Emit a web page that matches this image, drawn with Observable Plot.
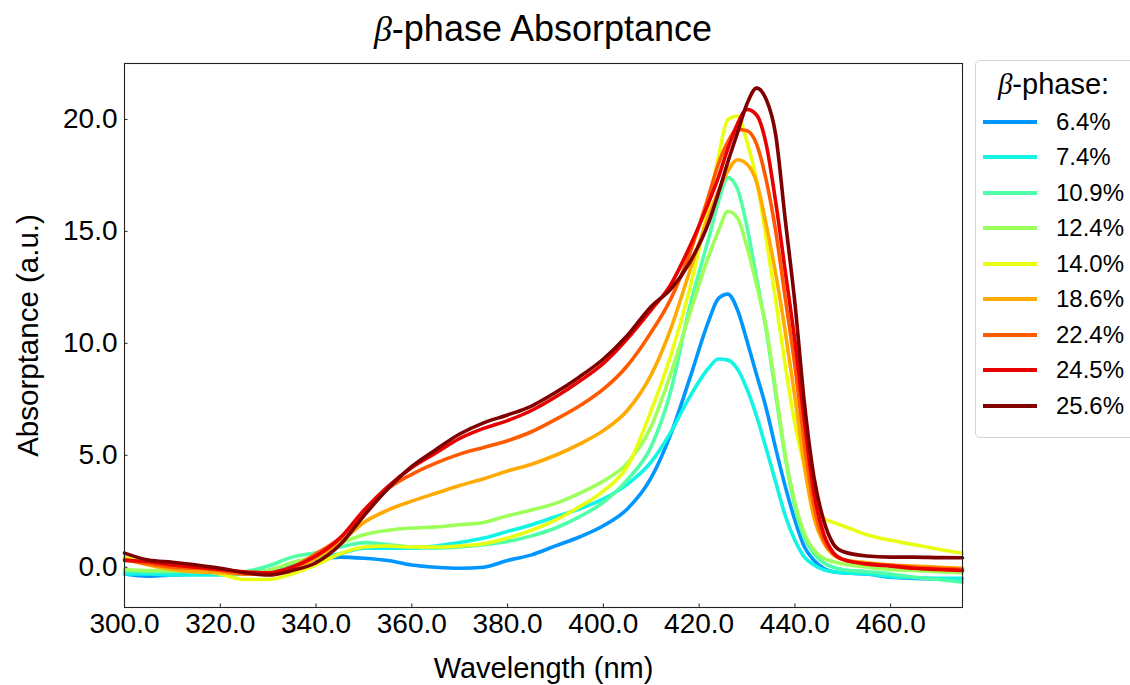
<!DOCTYPE html>
<html>
<head>
<meta charset="utf-8">
<script src="https://cdn.jsdelivr.net/npm/d3@7"></script>
<script src="https://cdn.jsdelivr.net/npm/@observablehq/plot@0.6"></script>
<style>
  body { margin: 0; background: #fff; }
  #wrap { position: relative; width: 1130px; height: 685px; font-family: "Liberation Sans", Arial, sans-serif; color: #000; overflow: hidden; }
  #title { height: 50px; box-sizing: border-box; padding-top: 11px; margin-left: 124px; width: 838px; text-align: center; font-size: 36px; line-height: 36px; white-space: nowrap; }
  .beta { font-family: "Liberation Serif", "DejaVu Serif", serif; font-style: italic; }
  #legend { position: absolute; left: 975px; top: 60px; width: 175px; height: 378px; border: 1px solid #d4d4d4; border-radius: 5px; box-sizing: border-box; background: #fff; }
  #legend .ltitle { position: absolute; left: 0; width: 155px; top: 6px; text-align: center; font-size: 29px; line-height: 34px; white-space: nowrap; }
  #legend .row { position: absolute; left: 0; height: 30px; width: 170px; }
  #legend .sw { position: absolute; left: 7px; top: 13px; width: 54px; height: 4px; }
  #legend .lab { position: absolute; left: 80px; top: 0; font-size: 24px; line-height: 30px; white-space: nowrap; }
</style>
</head>
<body>
<div id="wrap">
  <div id="title"><span class="beta">β</span>-phase Absorptance</div>
  <div id="chart"></div>
  <div id="legend"></div>
</div>
<script>
// Wavelength grid (nm)
const wavelength = [300,305,310,315,320,325,330,335,340,345,350,355,360,365,370,375,380,385,390,395,400,405,410,414,418,422,424,426,428,430,432,434,436,438,440,442,444,446,448,450,455,460,465,470,475];

// Series labels (beta-phase fraction) and colours
const seriesLabels = ["6.4%","7.4%","10.9%","12.4%","14.0%","18.6%","22.4%","24.5%","25.6%"];
const seriesColors = ["#0096ff","#12f5e4","#50ffa8","#9cff5a","#e8ff12","#ffaa00","#ff5a00","#e80000","#800000"];

// Absorptance values (a.u.) per series
const abs_6_4 = [-0.3,-0.4,-0.35,-0.3,-0.3,-0.25,-0.15,0.15,0.35,0.45,0.4,0.3,0.1,0.0,-0.05,0.0,0.3,0.55,0.95,1.35,1.85,2.6,4.0,5.9,8.4,11.0,12.0,12.2,11.5,10.1,8.6,7.1,5.3,3.6,2.1,0.9,0.3,-0.05,-0.2,-0.25,-0.3,-0.45,-0.5,-0.52,-0.52];
const abs_7_4 = [-0.3,-0.3,-0.35,-0.35,-0.35,-0.3,-0.2,0.2,0.4,0.6,0.85,0.85,0.85,0.95,1.1,1.3,1.6,1.9,2.25,2.6,3.05,3.7,4.7,6.0,7.6,8.9,9.3,9.25,8.85,7.95,6.75,5.3,3.8,2.3,1.2,0.45,0.1,-0.12,-0.2,-0.25,-0.3,-0.42,-0.47,-0.5,-0.5];
const abs_10_9 = [-0.15,-0.2,-0.2,-0.2,-0.25,-0.2,0.05,0.45,0.65,0.9,1.1,1.0,0.9,0.85,0.9,1.0,1.15,1.4,1.75,2.25,2.9,3.9,5.4,7.8,11.6,14.7,16.3,17.4,16.9,15.2,12.9,10.6,7.7,4.9,2.7,1.3,0.6,0.2,0.0,-0.1,-0.2,-0.3,-0.45,-0.55,-0.67];
const abs_12_4 = [-0.1,-0.15,-0.15,-0.2,-0.2,-0.3,-0.15,0.2,0.5,1.05,1.45,1.65,1.75,1.8,1.9,2.0,2.3,2.55,2.85,3.3,3.85,4.65,6.3,8.6,11.3,13.9,15.0,15.9,15.6,14.3,12.6,10.7,7.9,5.0,2.9,1.5,0.75,0.4,0.25,0.15,0.0,-0.1,-0.15,-0.2,-0.25];
const abs_14_0 = [0.45,0.2,0.05,-0.1,-0.3,-0.55,-0.55,-0.3,0.1,0.6,0.9,0.95,0.9,0.9,0.95,1.05,1.3,1.65,2.1,2.7,3.4,4.5,7.0,9.4,12.4,16.2,18.3,20.0,20.15,19.0,17.3,14.7,11.9,9.0,6.4,4.5,2.8,2.2,2.0,1.85,1.45,1.2,1.0,0.8,0.62];
const abs_18_6 = [0.35,0.1,-0.1,-0.2,-0.25,-0.3,-0.3,-0.1,0.4,1.1,2.0,2.55,2.95,3.3,3.65,3.95,4.3,4.6,5.0,5.5,6.1,7.0,8.6,10.6,13.2,15.7,16.8,17.7,18.2,18.0,17.2,15.3,13.1,10.5,7.6,4.5,2.2,1.1,0.55,0.35,0.2,0.1,0.05,0.0,-0.05];
const abs_22_4 = [0.35,0.15,0.0,-0.05,-0.15,-0.3,-0.3,0.0,0.6,1.3,2.4,3.5,4.15,4.65,5.05,5.35,5.65,6.05,6.6,7.2,7.95,9.0,10.5,11.95,14.0,16.6,18.0,19.0,19.55,19.5,18.9,17.3,15.0,12.0,9.0,5.5,2.7,1.2,0.6,0.35,0.15,0.1,0.0,-0.05,-0.1];
const abs_24_5 = [0.3,0.25,0.1,0.0,-0.1,-0.2,-0.25,0.0,0.5,1.3,2.55,3.6,4.45,5.1,5.75,6.2,6.55,7.0,7.6,8.3,9.1,10.2,11.5,12.6,14.3,16.3,17.4,18.7,19.8,20.45,20.2,18.9,16.3,13.2,10.1,6.5,3.3,1.5,0.65,0.35,0.15,0.05,-0.05,-0.1,-0.15];
const abs_25_6 = [0.63,0.32,0.22,0.1,-0.05,-0.25,-0.35,-0.15,0.2,1.0,2.3,3.5,4.5,5.25,5.95,6.45,6.8,7.2,7.8,8.5,9.3,10.35,11.65,12.4,13.6,15.4,16.7,18.1,19.4,20.7,21.4,20.9,19.3,15.5,11.8,7.3,4.0,2.1,1.05,0.7,0.5,0.45,0.45,0.43,0.42];

// Axis ticks
const xTicks = [300,320,340,360,380,400,420,440,460];
const yTicks = [0,5,10,15,20];

const seriesValues = [abs_6_4, abs_7_4, abs_10_9, abs_12_4, abs_14_0, abs_18_6, abs_22_4, abs_24_5, abs_25_6];
const rows = [];
seriesLabels.forEach((lab, i) => {
  wavelength.forEach((w, j) => rows.push({series: lab, nm: w, v: seriesValues[i][j]}));
});

const W = 1130, H = 635, mT = 13, mB = 78, mL = 124, mR = 168;
const innerW = W - mL - mR, innerH = H - mT - mB;
const fmt = d3.format(".1f");

const chart = Plot.plot({
  width: W, height: H,
  marginTop: mT, marginBottom: mB, marginLeft: mL, marginRight: mR,
  style: {fontFamily: "'Liberation Sans', Arial, sans-serif", fontSize: "28px", color: "#000", background: "#fff"},
  x: {domain: [300, 475], label: null},
  y: {domain: [-1.8, 22.5], label: null},
  color: {domain: seriesLabels, range: seriesColors},
  marks: [
    Plot.line(rows, {x: "nm", y: "v", z: "series", stroke: "series", strokeWidth: 3.6, curve: "monotone-x"}),
    Plot.frame({stroke: "#222", strokeWidth: 1.1}),
    Plot.tickX(xTicks, {x: d => d, stroke: "#222", insetTop: innerH - 3.5}),
    Plot.tickY(yTicks, {y: d => d, stroke: "#222", insetRight: innerW - 3.5}),
    Plot.axisX(xTicks, {tickSize: 0, tickPadding: 6, tickFormat: fmt, fontSize: 28, label: null}),
    Plot.axisY(yTicks, {tickSize: 0, tickPadding: 7, tickFormat: fmt, fontSize: 28, label: null}),
    Plot.text(["Wavelength (nm)"], {frameAnchor: "bottom", dy: 61, fontSize: 29, lineAnchor: "middle", textAnchor: "middle"}),
    Plot.text(["Absorptance (a.u.)"], {frameAnchor: "left", dx: -96, rotate: -90, fontSize: 29.5, lineAnchor: "middle", textAnchor: "middle"})
  ]
});
document.getElementById("chart").appendChild(chart);

// Legend
const legend = d3.select("#legend");
legend.append("div").attr("class", "ltitle").html('<span class="beta">β</span>-phase:');
seriesLabels.forEach((lab, i) => {
  const r = legend.append("div").attr("class", "row").style("top", (45.7 + 35.5 * i) + "px");
  r.append("div").attr("class", "sw").style("background", seriesColors[i]);
  r.append("div").attr("class", "lab").text(lab);
});
</script>
</body>
</html>
